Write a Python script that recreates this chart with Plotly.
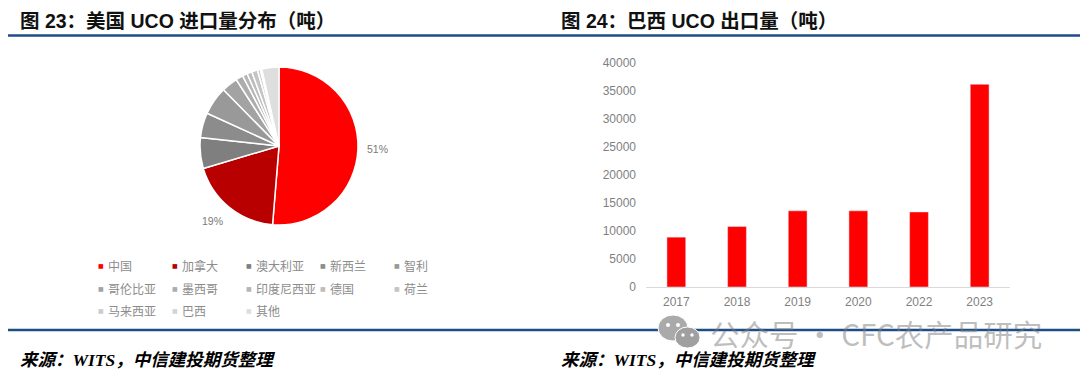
import plotly.graph_objects as go

pie_labels = ["中国", "加拿大", "澳大利亚", "新西兰", "智利", "哥伦比亚", "墨西哥", "印度尼西亚", "德国", "荷兰", "马来西亚", "巴西", "其他"]
pie_values = [51.3, 19.1, 6.3, 5.1, 5.8, 3.3, 1.5, 1.0, 1.0, 1.2, 0.6, 0.3, 3.5]
pie_colors = ["#ff0000", "#b80000", "#7f7f7f", "#8c8c8c", "#999999", "#a3a3a3", "#adadad", "#b5b5b5", "#bdbdbd", "#c4c4c4", "#cccccc", "#d4d4d4", "#dedede"]
pie_text = ["51%", "19%"] + [""] * 11

bar_years = ["2017", "2018", "2019", "2020", "2022", "2023"]
bar_values = [8900, 10800, 13600, 13600, 13400, 36200]
y_ticks = [0, 5000, 10000, 15000, 20000, 25000, 30000, 35000, 40000]

title_left = "图 23：美国 UCO 进口量分布（吨）"
title_right = "图 24：巴西 UCO 出口量（吨）"
source_text = "来源：WITS，中信建投期货整理"
watermark = "公众号 · CFC农产品研究"

W, H = 1080, 377
CJK = "Liberation Sans, Noto Sans CJK SC"
px = lambda v: v / W
py = lambda v: 1 - v / H

fig = go.Figure()
fig.add_trace(go.Pie(
    labels=pie_labels, values=pie_values, sort=False, direction="clockwise", rotation=0,
    marker=dict(colors=pie_colors, line=dict(color="white", width=1.5)),
    text=pie_text, textinfo="none", hoverinfo="label+percent", showlegend=False,
    domain=dict(x=[px(200), px(358)], y=[py(225), py(67)]),
))
fig.add_trace(go.Bar(
    x=bar_years, y=bar_values, marker_color="#ff0000", width=0.31, showlegend=False,
    xaxis="x", yaxis="y",
))

annotations = []
def note(x, y, text, size, color, xanchor="left", **kw):
    annotations.append(dict(xref="paper", yref="paper", x=px(x), y=py(y), text=text, showarrow=False,
                            xanchor=xanchor, yanchor="middle", font=dict(size=size, color=color, family=kw.pop("family", CJK)), **kw))

note(18, 21, f"<b>{title_left}</b>", 19.5, "#111111")
note(559, 21, f"<b>{title_right}</b>", 19.5, "#111111")
note(18, 360, f"<b><i>{source_text}</i></b>", 17.5, "#000000", family="Liberation Serif, Noto Sans CJK SC")
note(559, 360, f"<b><i>{source_text}</i></b>", 17.5, "#000000", family="Liberation Serif, Noto Sans CJK SC")
note(365, 149, pie_text[0], 10.5, "#7a7a7a")
note(200, 221, pie_text[1], 10.5, "#7a7a7a")

cols = [101, 175, 249, 323, 397]
rows = [265, 288, 310]
for i, (lab, col) in enumerate(zip(pie_labels, pie_colors)):
    r, c = divmod(i, 5)
    note(cols[c], rows[r], "■", 6, col, xanchor="center", family="DejaVu Sans")
    note(cols[c] + 5, rows[r], lab, 12, "#8c8c8c", family="Noto Sans CJK SC")

shapes = []
for x0, x1, y in [(8, 1080, 35.5), (8, 1080, 330)]:
    shapes.append(dict(type="line", xref="paper", yref="paper", x0=px(x0), x1=px(x1), y0=py(y), y1=py(y),
                       line=dict(color="#1f4e87", width=2.5)))
for cx, cy, rx, ry, col in [(673, 328, 15, 13, "rgb(170,170,170)"), (687.5, 337.5, 12.5, 10.5, "rgb(160,160,160)"),
                            (668, 325, 2, 2, "white"), (678, 325, 2, 2, "white"), (683, 335, 1.7, 1.7, "white"), (692, 335, 1.7, 1.7, "white")]:
    shapes.append(dict(type="circle", xref="paper", yref="paper", x0=px(cx - rx), x1=px(cx + rx), y0=py(cy + ry), y1=py(cy - ry),
                       fillcolor=col, line=dict(color="white", width=1 if rx > 5 else 0)))

note(708, 333, watermark, 29.5, "rgba(125,125,125,0.5)", family="Noto Sans CJK SC")

fig.update_layout(
    width=W, height=H, margin=dict(l=0, r=0, t=0, b=0, autoexpand=False), paper_bgcolor="white", plot_bgcolor="white",
    font=dict(family=CJK, color="#7f7f7f"),
    xaxis=dict(domain=[px(646), px(1010)], anchor="y", type="category", showgrid=False, showline=True, linecolor="#d9d9d9", linewidth=1,
               ticks="", ticklabelstandoff=4, tickfont=dict(size=12, color="#7f7f7f", family="Liberation Sans")),
    yaxis=dict(domain=[py(287), py(63)], anchor="x", range=[0, 40000], tickvals=y_ticks, tickformat="d", showgrid=False, showline=False, zeroline=False,
               ticks="", ticklabelstandoff=9, tickfont=dict(size=12, color="#7f7f7f", family="Liberation Sans")),
    annotations=annotations, shapes=shapes,
)
fig.write_html("out.html", post_script="document.body.style.margin='0';", config=dict(displayModeBar=False))
